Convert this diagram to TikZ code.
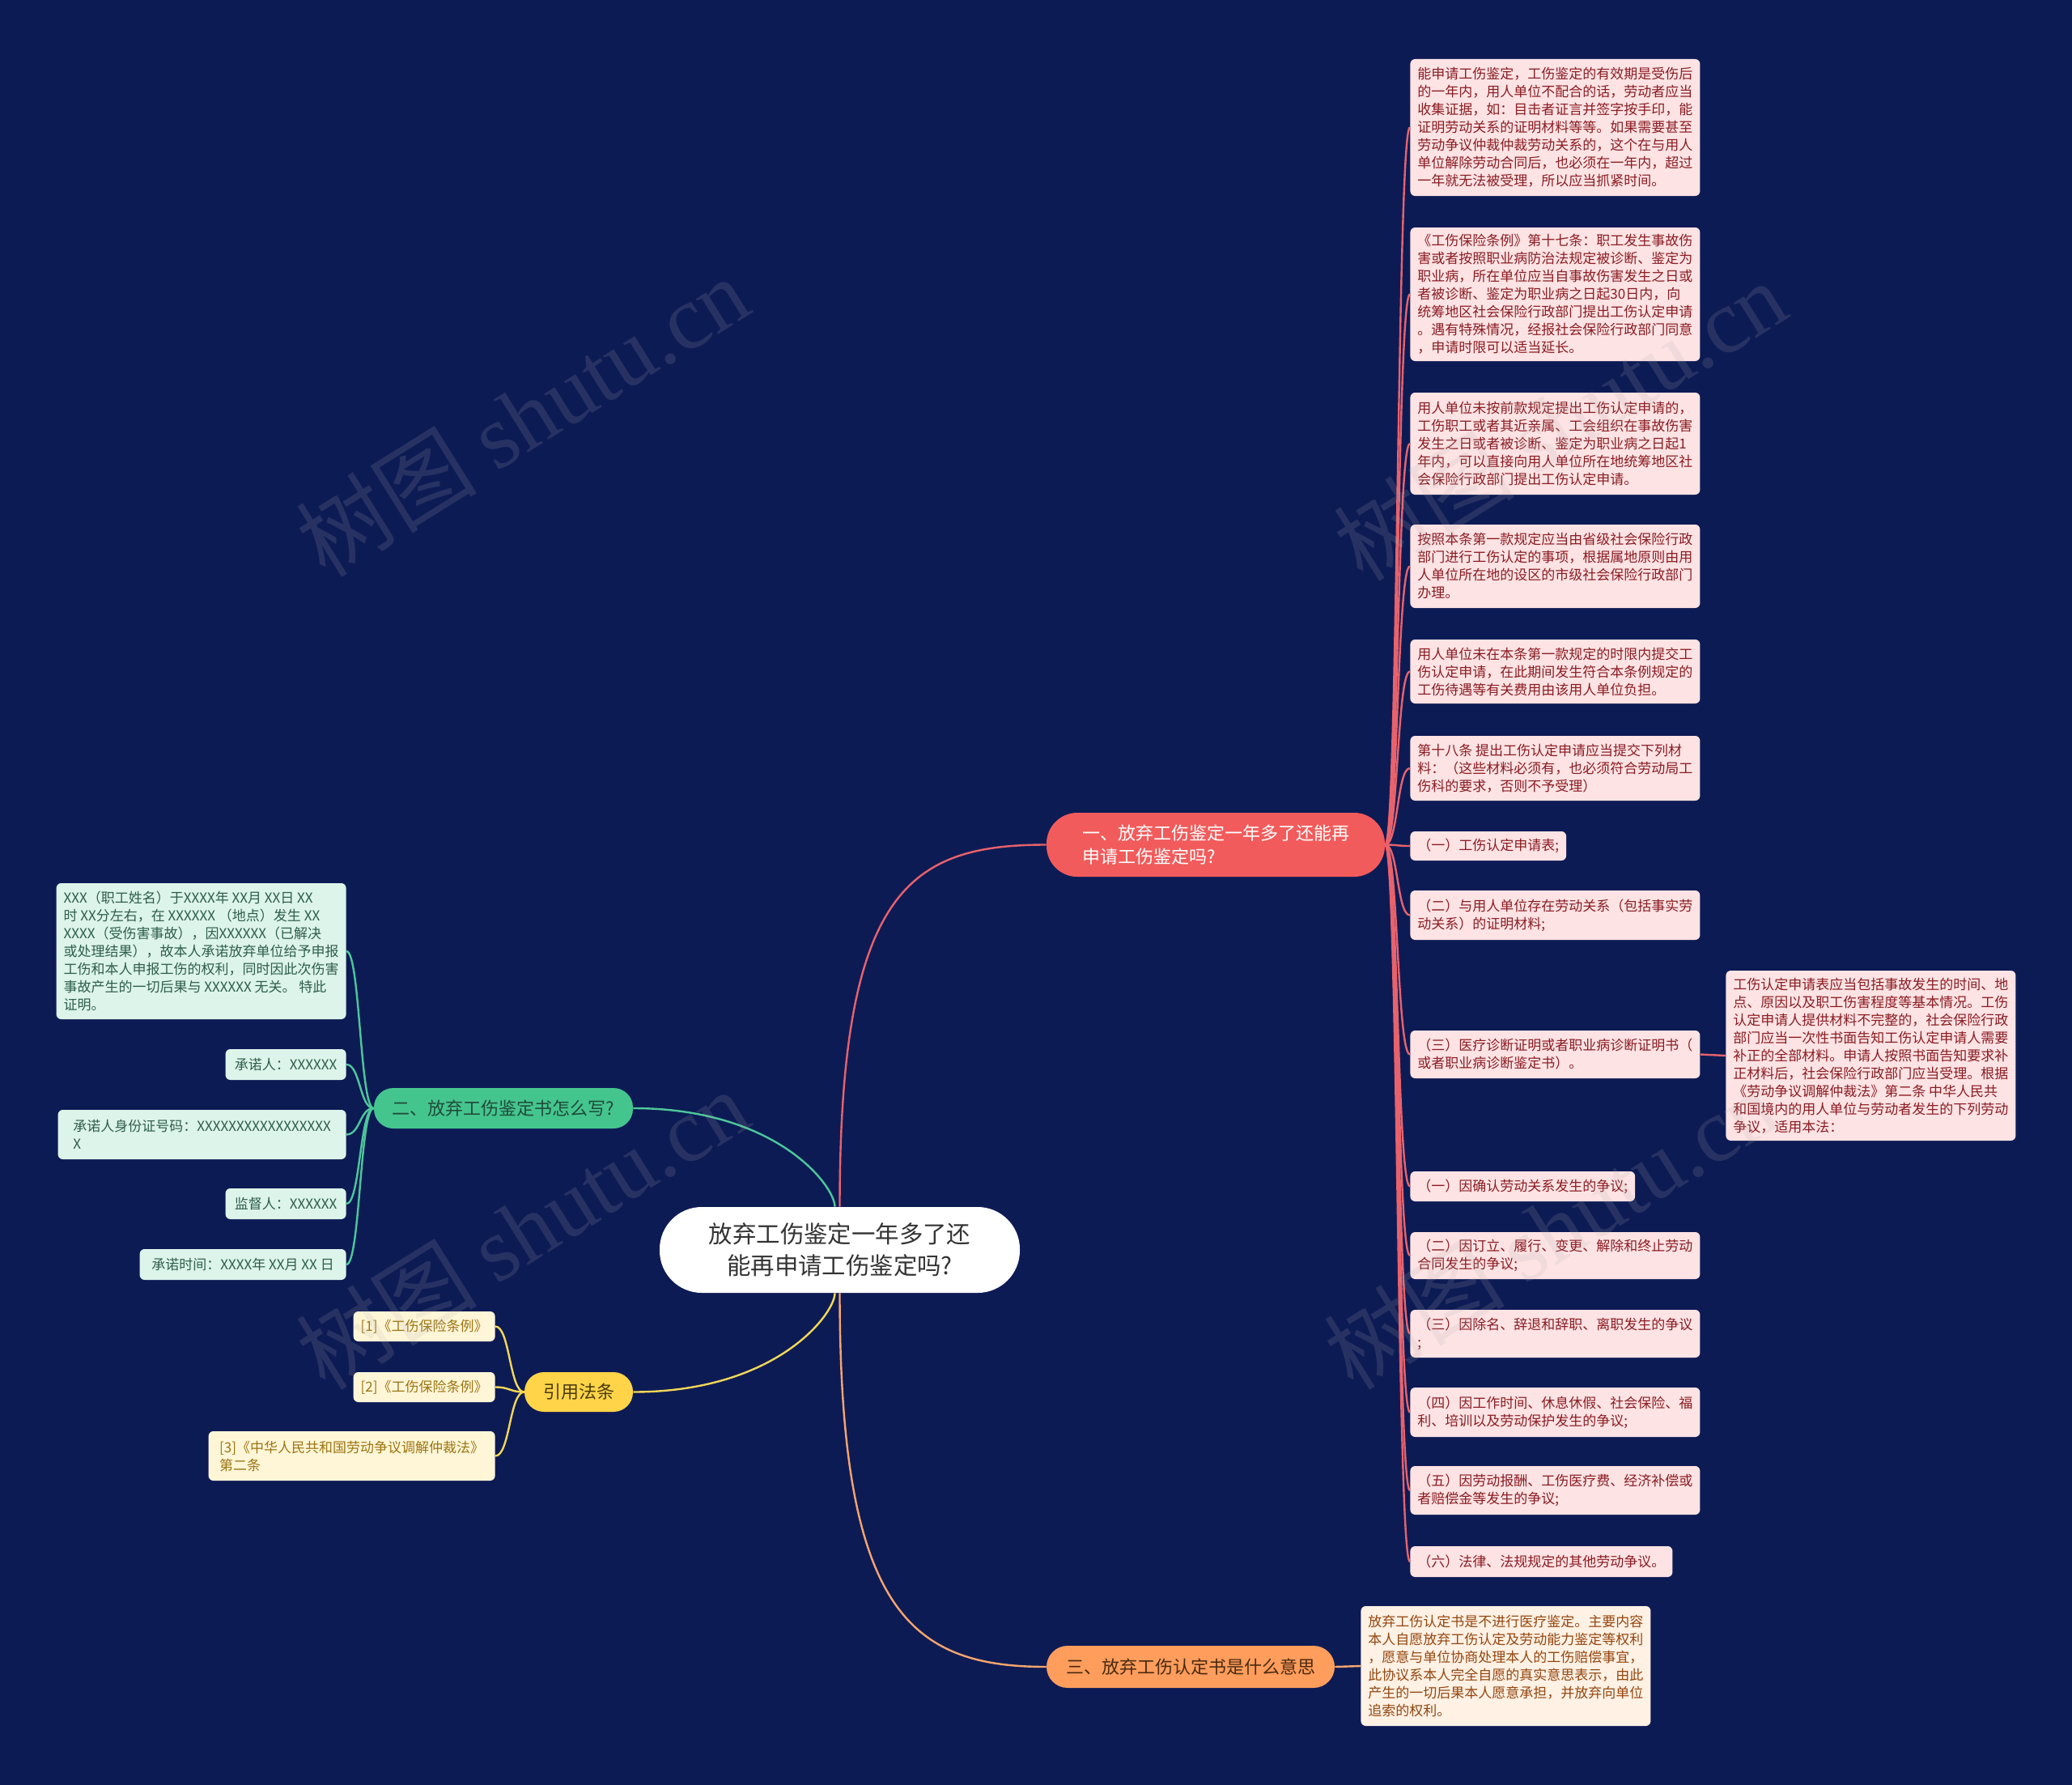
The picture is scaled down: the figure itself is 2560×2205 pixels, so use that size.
\documentclass[tikz,border=0pt]{standalone}
\usepackage{fontspec}
\setmainfont{Noto Sans CJK SC}
\newfontfamily\wmfont{Liberation Serif}
\usetikzlibrary{calc}
\definecolor{bg}{HTML}{0D1B55}
\definecolor{roottext}{HTML}{333333}
\definecolor{redfill}{HTML}{F25B5B}
\definecolor{redline}{HTML}{E8626C}
\definecolor{pinkfill}{HTML}{FDE3E4}
\definecolor{pinktext}{HTML}{8A1C22}
\definecolor{greenfill}{HTML}{45C58E}
\definecolor{greentext}{HTML}{1F4A3A}
\definecolor{greenline}{HTML}{4CC89A}
\definecolor{mintfill}{HTML}{DDF4EA}
\definecolor{minttext}{HTML}{2D5E4C}
\definecolor{yelfill}{HTML}{FFD448}
\definecolor{yeltext}{HTML}{4A3B10}
\definecolor{yelline}{HTML}{F3D757}
\definecolor{creamfill}{HTML}{FFF6D8}
\definecolor{creamtext}{HTML}{9C7410}
\definecolor{orafill}{HTML}{FF9D5C}
\definecolor{oratext}{HTML}{4A2A10}
\definecolor{oraline}{HTML}{F7A56E}
\definecolor{peachfill}{HTML}{FFF1E4}
\definecolor{peachtext}{HTML}{93460F}
\definecolor{wmgray}{HTML}{B0B0B0}
\newcommand\linkcurve[4]{\draw[#1] (#2) .. controls +(#4,0) and +(-#4,0) .. (#3);}
\begin{document}
\begin{tikzpicture}[x=0.5pt,y=-0.5pt,
  every node/.style={inner sep=0pt},
  rootnode/.style={fill=white, text=roottext, rounded corners=26pt, minimum width=222.5pt, minimum height=53pt, align=center, font=\fontsize{14.7pt}{19.5pt}\selectfont},
  mainnode/.style={align=left, font=\fontsize{11pt}{14.5pt}\selectfont},
  leafbox/.style={rounded corners=3pt, inner xsep=4.5pt, inner ysep=0pt, align=left, font=\fontsize{8.5pt}{11pt}\selectfont},
  pinkleaf/.style={leafbox, fill=pinkfill, text=pinktext, anchor=west},
  mintleaf/.style={leafbox, fill=mintfill, text=minttext, anchor=east},
  creamleaf/.style={leafbox, fill=creamfill, text=creamtext, anchor=east},
  peachleaf/.style={leafbox, fill=peachfill, text=peachtext, anchor=west},
  link/.style={line width=1.2pt},
  wm/.style={text=wmgray, text opacity=0.16, font=\fontsize{56pt}{56pt}\selectfont, rotate=32}
]
\fill[bg] (0,0) rectangle (2560,2205);
\useasboundingbox (0,0) rectangle (2560,2205);

% root and main branches
\node[rootnode] (root) at (1037.5,1544) {放弃工伤鉴定一年多了还\\能再申请工伤鉴定吗?};
\node[mainnode, fill=redfill, text=white, rounded corners=19pt, minimum width=209pt, minimum height=39.5pt] (b1) at (1502,1043.5) {一、放弃工伤鉴定一年多了还能再\\申请工伤鉴定吗?};
\node[mainnode, fill=greenfill, text=greentext, rounded corners=12pt, minimum width=160pt, minimum height=25pt] (b2) at (622,1369) {二、放弃工伤鉴定书怎么写?};
\node[mainnode, fill=yelfill, text=yeltext, rounded corners=12pt, minimum width=67pt, minimum height=24.5pt] (b3) at (715,1719.5) {引用法条};
\node[mainnode, fill=orafill, text=oratext, rounded corners=13pt, minimum width=178pt, minimum height=26pt] (b4) at (1471,2059) {三、放弃工伤认定书是什么意思};

% right leaves
\node[pinkleaf, minimum width=179pt, minimum height=84.5pt] (r1) at (1742,157.5) {能申请工伤鉴定，工伤鉴定的有效期是受伤后\\的一年内，用人单位不配合的话，劳动者应当\\收集证据，如：目击者证言并签字按手印，能\\证明劳动关系的证明材料等等。如果需要甚至\\劳动争议仲裁仲裁劳动关系的，这个在与用人\\单位解除劳动合同后，也必须在一年内，超过\\一年就无法被受理，所以应当抓紧时间。};
\node[pinkleaf, minimum width=179pt, minimum height=82.5pt] (r2) at (1742,363.5) {《工伤保险条例》第十七条：职工发生事故伤\\害或者按照职业病防治法规定被诊断、鉴定为\\职业病，所在单位应当自事故伤害发生之日或\\者被诊断、鉴定为职业病之日起30日内，向\\统筹地区社会保险行政部门提出工伤认定申请\\。遇有特殊情况，经报社会保险行政部门同意\\，申请时限可以适当延长。};
\node[pinkleaf, minimum width=179pt, minimum height=63pt] (r3) at (1742,548) {用人单位未按前款规定提出工伤认定申请的，\\工伤职工或者其近亲属、工会组织在事故伤害\\发生之日或者被诊断、鉴定为职业病之日起1\\年内，可以直接向用人单位所在地统筹地区社\\会保险行政部门提出工伤认定申请。};
\node[pinkleaf, minimum width=179pt, minimum height=51.5pt] (r4) at (1742,699.5) {按照本条第一款规定应当由省级社会保险行政\\部门进行工伤认定的事项，根据属地原则由用\\人单位所在地的设区的市级社会保险行政部门\\办理。};
\node[pinkleaf, minimum width=179pt, minimum height=39.5pt] (r5) at (1742,829.5) {用人单位未在本条第一款规定的时限内提交工\\伤认定申请，在此期间发生符合本条例规定的\\工伤待遇等有关费用由该用人单位负担。};
\node[pinkleaf, minimum width=179pt, minimum height=40pt] (r6) at (1742,949) {第十八条 提出工伤认定申请应当提交下列材\\料：（这些材料必须有，也必须符合劳动局工\\伤科的要求，否则不予受理）};
\node[pinkleaf, minimum width=95.5pt, minimum height=18pt] (r7) at (1742,1045) {（一）工伤认定申请表;};
\node[pinkleaf, minimum width=179pt, minimum height=30.5pt] (r8) at (1742,1130.5) {（二）与用人单位存在劳动关系（包括事实劳\\动关系）的证明材料;};
\node[pinkleaf, minimum width=179pt, minimum height=29.5pt] (r9) at (1742,1302.5) {（三）医疗诊断证明或者职业病诊断证明书（\\或者职业病诊断鉴定书）。};
\node[pinkleaf, minimum width=177.5pt, minimum height=105pt] (rf) at (2132,1304) {工伤认定申请表应当包括事故发生的时间、地\\点、原因以及职工伤害程度等基本情况。工伤\\认定申请人提供材料不完整的，社会保险行政\\部门应当一次性书面告知工伤认定申请人需要\\补正的全部材料。申请人按照书面告知要求补\\正材料后，社会保险行政部门应当受理。根据\\《劳动争议调解仲裁法》第二条 中华人民共\\和国境内的用人单位与劳动者发生的下列劳动\\争议，适用本法：};
\node[pinkleaf, minimum width=138pt, minimum height=18.5pt] (r10) at (1742,1465.5) {（一）因确认劳动关系发生的争议;};
\node[pinkleaf, minimum width=179pt, minimum height=29pt] (r11) at (1742,1551) {（二）因订立、履行、变更、解除和终止劳动\\合同发生的争议;};
\node[pinkleaf, minimum width=179pt, minimum height=29.5pt] (r12) at (1742,1647.5) {（三）因除名、辞退和辞职、离职发生的争议\\;};
\node[pinkleaf, minimum width=179pt, minimum height=30.5pt] (r13) at (1742,1744.5) {（四）因工作时间、休息休假、社会保险、福\\利、培训以及劳动保护发生的争议;};
\node[pinkleaf, minimum width=179pt, minimum height=30pt] (r14) at (1742,1841) {（五）因劳动报酬、工伤医疗费、经济补偿或\\者赔偿金等发生的争议;};
\node[pinkleaf, minimum width=161.5pt, minimum height=19pt] (r15) at (1742,1929) {（六）法律、法规规定的其他劳动争议。};

% bottom leaf
\node[peachleaf, minimum width=177.5pt, minimum height=74pt] (o1) at (1681,2058) {放弃工伤认定书是不进行医疗鉴定。主要内容\\本人自愿放弃工伤认定及劳动能力鉴定等权利\\，愿意与单位协商处理本人的工伤赔偿事宜，\\此协议系本人完全自愿的真实意思表示，由此\\产生的一切后果本人愿意承担，并放弃向单位\\追索的权利。};

% left leaves
\node[mintleaf, minimum width=178pt, minimum height=84pt] (l1) at (428,1175) {XXX（职工姓名）于XXXX年 XX月 XX日 XX\\时 XX分左右，在 XXXXXX （地点）发生 XX\\XXXX（受伤害事故），因XXXXXX（已解决\\或处理结果），故本人承诺放弃单位给予申报\\工伤和本人申报工伤的权利，同时因此次伤害\\事故产生的一切后果与 XXXXXX 无关。 特此\\证明。};
\node[mintleaf, minimum width=74.5pt, minimum height=19pt] (l2) at (428,1315) {承诺人：XXXXXX};
\node[mintleaf, minimum width=178pt, minimum height=30.5pt] (l3) at (428,1401.5) {承诺人身份证号码：XXXXXXXXXXXXXXXXX\\X};
\node[mintleaf, minimum width=74.5pt, minimum height=19pt] (l4) at (428,1487) {监督人：XXXXXX};
\node[mintleaf, minimum width=127.5pt, minimum height=19pt] (l5) at (428,1562) {承诺时间：XXXX年 XX月 XX 日};

% yellow leaves
\node[creamleaf, minimum width=85.5pt, minimum height=18.5pt] (y1) at (612,1638.5) {[1]《工伤保险条例》};
\node[creamleaf, minimum width=85.5pt, minimum height=18.5pt] (y2) at (612,1713.5) {[2]《工伤保险条例》};
\node[creamleaf, minimum width=177pt, minimum height=30.5pt] (y3) at (612,1798.5) {[3]《中华人民共和国劳动争议调解仲裁法》\\第二条};

% main connectors
\draw[link, redline] (root.north) .. controls +(0,-390) and +(-170,0) .. (b1.west);
\draw[link, oraline] (root.south) .. controls +(0,390) and +(-170,0) .. (b4.west);
\draw[link, greenline] (b2.east) .. controls +(178,0) and +(0,-25) .. ([xshift=-3pt]root.north);
\draw[link, yelline] (b3.east) .. controls +(178,0) and +(0,25) .. ([xshift=-3pt]root.south);

% leaf connectors
\foreach \n in {r1,r2,r3,r4,r5,r6,r7,r8,r9,r10,r11,r12,r13,r14,r15}{
  \linkcurve{link, redline}{b1.east}{\n.west}{16}
}
\linkcurve{link, redline}{r9.east}{rf.west}{16}
\linkcurve{link, oraline}{b4.east}{o1.west}{16}
\foreach \n in {l1,l2,l3,l4,l5}{
  \linkcurve{link, greenline}{b2.west}{\n.east}{-17}
}
\foreach \n in {y1,y2,y3}{
  \linkcurve{link, yelline}{b3.west}{\n.east}{-18}
}

% watermarks
\node[wm] (w1) at (645,514) {树图 {\wmfont shutu.cn}};
\node[wm] (w2) at (1927,519) {树图 {\wmfont shutu.cn}};
\node[wm] (w3) at (645,1518) {树图 {\wmfont shutu.cn}};
\node[wm] (w4) at (1915,1518) {树图 {\wmfont shutu.cn}};
\end{tikzpicture}
\end{document}
